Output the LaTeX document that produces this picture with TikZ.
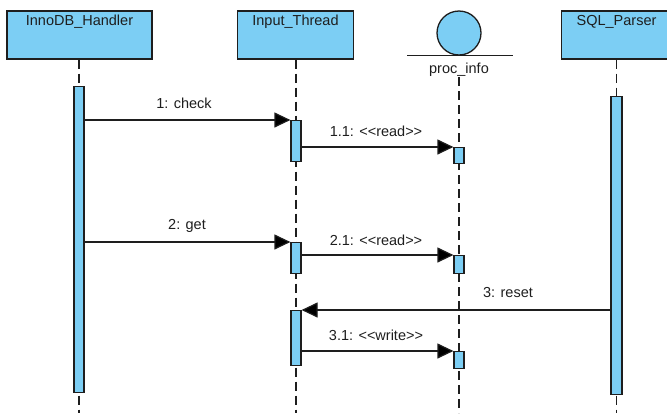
\documentclass[tikz,border=0pt]{standalone}
\usepackage{fontspec}
\setmainfont{Liberation Sans}
\usetikzlibrary{arrows.meta}
\definecolor{lifefill}{RGB}{124,206,244}
\definecolor{ink}{RGB}{30,30,30}
\tikzset{
  head/.style={draw=ink, fill=lifefill, line width=1.3pt, rectangle, inner sep=0pt},
  headtext/.style={anchor=base, inner sep=0pt, text=ink},
  actbar/.style={draw=ink, fill=lifefill, line width=1.2pt, rectangle, inner sep=0pt,
                 minimum width=10pt, anchor=north},
  lifeline/.style={draw=ink, line width=1.3pt, dash pattern=on 9pt off 5pt},
  msg/.style={draw=ink, line width=1.2pt, -{Triangle[length=16pt,width=15pt,fill=black]}},
  msgtext/.style={anchor=base, inner sep=0pt, text=ink},
}
\begin{document}
\begin{tikzpicture}[x=1pt, y=-1pt, font=\fontsize{14.5}{17}\selectfont]
\useasboundingbox (0,0) rectangle (667,413);
\clip (0,0) rectangle (667,413);

% lifeline heads
\node[head, minimum width=145pt, minimum height=48pt] (ih) at (79.5,35) {};
\node[headtext] (ihT) at ([yshift=-15pt]ih.north) {InnoDB\_Handler};
\node[head, minimum width=116pt, minimum height=48pt] (it) at (295.5,35) {};
\node[headtext] (itT) at ([yshift=-15pt]it.north) {Input\_Thread};
\node[head, minimum width=110pt, minimum height=48pt] (sq) at (616.5,35) {};
\node[headtext] (sqT) at ([yshift=-15pt]sq.north) {SQL\_Parser};

% entity head
\node[head, circle, minimum size=44pt] (pi) at (459,33) {};
\coordinate (piL) at (407,55.5);
\coordinate (piR) at (513,55.5);
\draw[draw=ink, line width=1.3pt] (piL) -- (piR);
\node[headtext] (piT) at (459,73) {proc\_info};

% lifeline ends
\coordinate (ihEnd) at (79,413);
\coordinate (itEnd) at (296,413);
\coordinate (piEnd) at (459,413);
\coordinate (sqEnd) at (616.5,413);
\coordinate (piTop) at (459,77);

\draw[lifeline] (ih.south -| ihEnd) -- (ihEnd);
\draw[lifeline] (it.south -| itEnd) -- (itEnd);
\draw[lifeline] (piTop) -- (piEnd);
\draw[lifeline] (sq.south -| sqEnd) -- (sqEnd);

% activation bars
\node[actbar, minimum height=306pt] (ihA) at (79,86) {};
\node[actbar, minimum height=41pt] (itA) at (296,120) {};
\node[actbar, minimum height=31pt] (itB) at (296,242) {};
\node[actbar, minimum height=55pt] (itC) at (296,310) {};
\node[actbar, minimum height=16pt] (piA) at (459,147) {};
\node[actbar, minimum height=18pt] (piB) at (459,255) {};
\node[actbar, minimum height=17pt] (piC) at (459,351) {};
\node[actbar, minimum width=11pt, minimum height=298pt] (sqA) at (616.5,96) {};

% messages
\draw[msg] (ihA.east |- itA.north west) -- (itA.north west);
\draw[msg] (itA.east |- piA.north west) -- (piA.north west);
\draw[msg] (ihA.east |- itB.north west) -- (itB.north west);
\draw[msg] (itB.east |- piB.north west) -- (piB.north west);
\draw[msg] (sqA.west |- itC.north east) -- (itC.north east);
\draw[msg] (itC.east |- piC.north west) -- (piC.north west);

% message labels
\node[msgtext] (m1) at (184,108) {1: check};
\node[msgtext] (m11) at (376,136) {1.1: <{}<read>{}>};
\node[msgtext] (m2) at (187,229) {2: get};
\node[msgtext] (m21) at (376,245) {2.1: <{}<read>{}>};
\node[msgtext] (m3) at (508,297) {3: reset};
\node[msgtext] (m31) at (376,340) {3.1: <{}<write>{}>};
\end{tikzpicture}
\end{document}
